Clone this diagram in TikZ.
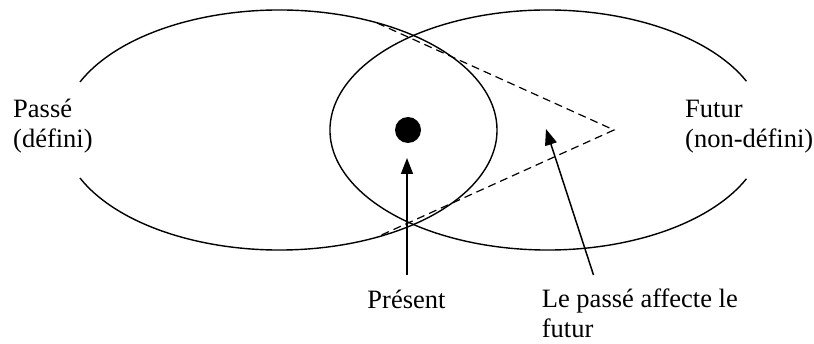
\documentclass[tikz,border=0pt]{standalone}
\usepackage{fontspec}
\setmainfont{Liberation Serif}
\usetikzlibrary{arrows.meta}
\begin{document}
\begin{tikzpicture}[x=1pt,y=1pt,
  curve/.style={line width=1.4pt},
  arrowline/.style={line width=1.5pt,-{Triangle[length=16pt,width=12pt]}},
  dashline/.style={line width=1.2pt,dash pattern=on 8pt off 5pt},
  lbl/.style={inner sep=0pt,font=\fontsize{26.5}{30}\selectfont,align=left}]
\useasboundingbox (0,0) rectangle (814,343);
\coordinate (lc) at (279.4,213);
\coordinate (rc) at (547.6,213);
% ellipses
\draw[curve] (lc) ++(156.4:217.6 and 120) arc[start angle=156.4, end angle=-156.4, x radius=217.6, y radius=120];
\draw[curve] (rc) ++(24:217.6 and 120) arc[start angle=24, end angle=336, x radius=217.6, y radius=120];
% dashed wedge
\coordinate (apex) at (614,213);
\coordinate (du) at (377,320);
\coordinate (dl) at (377,106);
\draw[dashline] (du) -- (apex) -- (dl);
% present dot
\node[circle,fill=black,minimum size=26pt,inner sep=0pt] (dot) at (408,213) {};
% labels (base anchor = baseline of last line)
\node[lbl,anchor=base west] (passe) at (13,195) {Passé\\(défini)};
\node[lbl,anchor=base west] (futur) at (685,195) {Futur\\(non-défini)};
\node[lbl,anchor=base] (present) at (406.5,35) {Présent};
\node[lbl,anchor=base west] (affecte) at (541.7,6) {Le passé affecte le\\futur};
% arrows
\coordinate (pa) at (407,68);
\coordinate (pt) at (407,185);
\draw[arrowline] (pa) -- (pt);
\coordinate (fa) at (593.5,68);
\coordinate (ft) at (546,214);
\draw[arrowline] (fa) -- (ft);
\end{tikzpicture}
\end{document}
